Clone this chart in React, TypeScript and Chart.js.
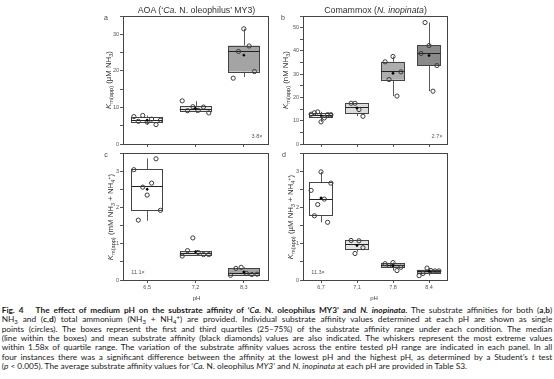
import React, { useEffect, useRef } from 'react';
import { Chart, registerables } from 'chart.js';

Chart.register(...registerables);

const FONT = '"Liberation Sans", Arial, Helvetica, sans-serif';
const CAPFONT = 'Lato, "Open Sans", sans-serif';

// ---------- Panel a : AOA, uM NH3 ----------
const aLabels = ['6,5', '7,2', '8,3'];
const aPoints = [
  [7.5, 6.2, 7.8, 6.0, 6.8, 5.3, 6.5],
  [11.8, 9.1, 10.2, 9.2, 10.1, 8.5],
  [18.0, 25.3, 31.5, 26.8, 19.8],
];
const aQ1 = [5.9, 9.0, 19.8];
const aMedian = [6.6, 9.6, 25.4];
const aQ3 = [7.4, 10.3, 26.9];
const aLow = [5.3, 8.5, 18.3];
const aHigh = [7.8, 11.7, 31.5];
const aMean = [6.5, 9.7, 24.3];

// ---------- Panel b : Comammox, nM NH3 ----------
const bLabels = ['6,7', '7,1', '7,8', '8,4'];
const bPoints = [
  [12.8, 13.4, 13.8, 9.5, 11.2, 12.6, 12.6],
  [17.5, 17.5, 14.8, 11.9],
  [35.3, 27.7, 37.6, 20.6, 31.0],
  [38.9, 52.2, 42.3, 22.7, 33.7],
];
const bQ1 = [11.3, 13.0, 27.6, 33.6];
const bMedian = [12.6, 16.0, 31.2, 38.9];
const bQ3 = [13.2, 17.5, 35.3, 42.4];
const bLow = [9.5, 12.0, 20.6, 22.7];
const bHigh = [13.8, 17.5, 37.6, 52.2];
const bMean = [12.2, 15.5, 30.4, 38.0];

// ---------- Panel c : AOA, mM NH3 + NH4+ ----------
const cLabels = ['6,5', '7,2', '8,3'];
const cPoints = [
  [3.04, 1.65, 2.56, 2.34, 2.67, 3.34, 1.92],
  [0.66, 0.81, 1.16, 0.76, 0.70, 0.70],
  [0.13, 0.32, 0.35, 0.18, 0.15, 0.16],
];
const cQ1 = [1.93, 0.68, 0.15];
const cMedian = [2.58, 0.75, 0.2];
const cQ3 = [3.05, 0.8, 0.33];
const cLow = [1.63, 0.66, 0.13];
const cHigh = [3.35, 0.81, 0.35];
const cMean = [2.5, 0.78, 0.22];

// ---------- Panel d : Comammox, uM NH3 + NH4+ ----------
const dLabels = ['6,7', '7,1', '7,8', '8,4'];
const dPoints = [
  [2.47, 1.77, 2.08, 2.98, 2.23, 1.59, 2.67],
  [1.09, 0.73, 1.08, 0.89],
  [0.45, 0.4, 0.48, 0.26, 0.35],
  [0.12, 0.18, 0.33, 0.26, 0.25, 0.25],
];
const dQ1 = [1.77, 0.84, 0.34, 0.19];
const dMedian = [2.24, 0.99, 0.4, 0.24];
const dQ3 = [2.69, 1.1, 0.46, 0.28];
const dLow = [1.59, 0.78, 0.26, 0.12];
const dHigh = [2.98, 1.1, 0.48, 0.33];
const dMean = [2.26, 0.95, 0.39, 0.24];

const aFills = ['#ffffff', '#e4e4e4', '#a4a4a4'];
const bFills = ['#f0f0f0', '#dcdcdc', '#adadad', '#8a8a8a'];
const cFills = ['#ffffff', '#e4e4e4', '#a4a4a4'];
const dFills = ['#ffffff', '#e4e4e4', '#b4b4b4', '#a8a8a8'];

type Spec = {
  labels: string[];
  points: number[][];
  q1: number[];
  median: number[];
  q3: number[];
  low: number[];
  high: number[];
  mean: number[];
  fills: string[];
  yMax: number;
  step: number;
  labelStep: number;
  showX: boolean;
  L: number; T: number; W: number; H: number;
  yw: number; xh: number; pt: number; pr: number;
};

const specs: Spec[] = [
  { labels: aLabels, points: aPoints, q1: aQ1, median: aMedian, q3: aQ3, low: aLow, high: aHigh, mean: aMean, fills: aFills,
    yMax: 35, step: 5, labelStep: 10, showX: false, L: 90, T: 8, W: 185, H: 150, yw: 33, xh: 14, pt: 8, pr: 7 },
  { labels: bLabels, points: bPoints, q1: bQ1, median: bMedian, q3: bQ3, low: bLow, high: bHigh, mean: bMean, fills: bFills,
    yMax: 55, step: 5, labelStep: 10, showX: false, L: 270, T: 8, W: 185, H: 150, yw: 33, xh: 14, pt: 8, pr: 8 },
  { labels: cLabels, points: cPoints, q1: cQ1, median: cMedian, q3: cQ3, low: cLow, high: cHigh, mean: cMean, fills: cFills,
    yMax: 3.5, step: 0.5, labelStep: 1, showX: true, L: 90, T: 145, W: 185, H: 150, yw: 33, xh: 15, pt: 8, pr: 7 },
  { labels: dLabels, points: dPoints, q1: dQ1, median: dMedian, q3: dQ3, low: dLow, high: dHigh, mean: dMean, fills: dFills,
    yMax: 3.5, step: 0.5, labelStep: 1, showX: true, L: 270, T: 145, W: 185, H: 150, yw: 33, xh: 15, pt: 8, pr: 8 },
];

const BOX_WIDTH = 0.65;

function BoxPanel({ spec }: { spec: Spec }) {
  const ref = useRef<HTMLCanvasElement>(null);
  useEffect(() => {
    if (!ref.current) return;
    const n = spec.labels.length;
    const pts: { x: number; y: number }[] = [];
    spec.points.forEach((arr, i) => {
      const m = arr.length;
      const spread = Math.min(0.55, 0.11 * (m - 1));
      arr.forEach((v, j) => {
        const off = m > 1 ? -spread / 2 + (spread * j) / (m - 1) : 0;
        pts.push({ x: i + 1 + off, y: v });
      });
    });
    const means = spec.mean.map((v, i) => ({ x: i + 1, y: v }));

    const boxPlugin = {
      id: 'boxes',
      beforeDatasetsDraw(chart: any) {
        const { ctx } = chart;
        const xs = chart.scales.x;
        const ys = chart.scales.y;
        const half = Math.abs(xs.getPixelForValue(1 + BOX_WIDTH / 2) - xs.getPixelForValue(1));
        ctx.save();
        for (let i = 0; i < n; i++) {
          const cx = xs.getPixelForValue(i + 1);
          const yq1 = ys.getPixelForValue(spec.q1[i]);
          const yq3 = ys.getPixelForValue(spec.q3[i]);
          const ymed = ys.getPixelForValue(spec.median[i]);
          const ylo = ys.getPixelForValue(spec.low[i]);
          const yhi = ys.getPixelForValue(spec.high[i]);
          ctx.strokeStyle = '#5a5a5a';
          ctx.lineWidth = 1;
          ctx.beginPath();
          ctx.moveTo(Math.round(cx) + 0.5, yq1);
          ctx.lineTo(Math.round(cx) + 0.5, ylo);
          ctx.moveTo(Math.round(cx) + 0.5, yq3);
          ctx.lineTo(Math.round(cx) + 0.5, yhi);
          ctx.stroke();
          ctx.fillStyle = spec.fills[i];
          ctx.fillRect(cx - half, yq3, half * 2, yq1 - yq3);
          ctx.strokeStyle = '#444';
          ctx.strokeRect(Math.round(cx - half) + 0.5, Math.round(yq3) + 0.5, Math.round(half * 2), Math.max(1, Math.round(yq1 - yq3)));
          ctx.strokeStyle = '#222';
          ctx.beginPath();
          ctx.moveTo(cx - half, Math.round(ymed) + 0.5);
          ctx.lineTo(cx + half, Math.round(ymed) + 0.5);
          ctx.stroke();
        }
        ctx.restore();
      },
      afterDraw(chart: any) {
        const { ctx, chartArea } = chart;
        ctx.save();
        ctx.strokeStyle = '#444';
        ctx.lineWidth = 1;
        const l = Math.round(chartArea.left) + 0.5;
        const t = Math.round(chartArea.top) + 0.5;
        const r = Math.round(chartArea.right) + 0.5;
        const b = Math.round(chartArea.bottom) + 0.5;
        ctx.strokeRect(l, t, r - l, b - t);
        ctx.restore();
      },
    };

    const tickFont = { family: FONT, size: 5.5 };
    const chart = new Chart(ref.current, {
      type: 'scatter',
      data: {
        datasets: [
          {
            data: means,
            pointStyle: 'rectRot',
            pointRadius: 1.7,
            backgroundColor: '#000',
            borderColor: '#000',
            borderWidth: 0,
          },
          {
            data: pts,
            pointStyle: 'circle',
            pointRadius: 2.1,
            borderColor: '#3c3c3c',
            backgroundColor: 'rgba(255,255,255,0)',
            borderWidth: 1,
          },
        ],
      },
      options: {
        responsive: false,
        animation: false,
        events: [],
        layout: { padding: { top: spec.pt, right: spec.pr, left: 0, bottom: 0 } },
        plugins: { legend: { display: false }, tooltip: { enabled: false } },
        scales: {
          x: {
            type: 'linear',
            min: 0.5,
            max: n + 0.5,
            afterBuildTicks: (s: any) => {
              s.ticks = spec.labels.map((_, i) => ({ value: i + 1 }));
            },
            afterFit: (s: any) => {
              s.height = spec.xh;
            },
            ticks: {
              autoSkip: false,
              maxRotation: 0,
              padding: 1.5,
              font: tickFont,
              color: '#555',
              callback: (v: any) => (spec.showX ? spec.labels[Math.round(Number(v)) - 1] ?? '' : ''),
            },
            grid: { drawOnChartArea: false, drawTicks: true, tickLength: 3, color: '#555' },
            border: { display: false },
          },
          y: {
            type: 'linear',
            min: 0,
            max: spec.yMax,
            afterFit: (s: any) => {
              s.width = spec.yw;
            },
            ticks: {
              stepSize: spec.step,
              padding: 1,
              font: tickFont,
              color: '#555',
              callback: (v: any) => {
                const q = Number(v) / spec.labelStep;
                return Math.abs(q - Math.round(q)) < 1e-6 ? String(Number(v)) : '';
              },
            },
            grid: { drawOnChartArea: false, drawTicks: true, tickLength: 3, color: '#555' },
            border: { display: false },
          },
        },
      },
      plugins: [boxPlugin],
    } as any);
    return () => chart.destroy();
  }, [spec]);
  return (
    <canvas
      ref={ref}
      width={spec.W}
      height={spec.H}
      style={{ position: 'absolute', left: spec.L, top: spec.T, width: spec.W, height: spec.H }}
    />
  );
}

const Txt = ({ x, y, size, children, color = '#333', rotate = false, style = {} }: any) => (
  <div
    style={{
      position: 'absolute',
      left: x,
      top: y,
      transform: rotate ? 'translate(-50%,-50%) rotate(-90deg)' : 'translate(-50%,-50%)',
      whiteSpace: 'nowrap',
      fontFamily: FONT,
      fontSize: size,
      lineHeight: 1,
      color,
      ...style,
    }}
  >
    {children}
  </div>
);

const Sub = ({ children }: any) => (
  <span style={{ fontSize: '0.72em', position: 'relative', top: '0.3em' }}>{children}</span>
);
const Sup = ({ children }: any) => (
  <span style={{ fontSize: '0.72em', position: 'relative', top: '-0.4em' }}>{children}</span>
);

const Km = () => (
  <>
    <i>K</i>
    <Sub>m(app)</Sub>
  </>
);

const capLines: any[] = [
  <>
    <b>Fig. 4</b>{'\u00a0\u00a0 '}
    <b>
      The effect of medium pH on the substrate affinity of ‘<i>Ca.</i> N. oleophilus MY3’ and <i>N. inopinata</i>.
    </b>{' '}
    The substrate affinities for both (<b>a</b>,<b>b</b>)
  </>,
  <>
    NH<Sub>3</Sub> and (<b>c</b>,<b>d</b>) total ammonium (NH<Sub>3</Sub> + NH<Sub>4</Sub>
    <Sup>+</Sup>) are provided. Individual substrate affinity values determined at each pH are shown as single
  </>,
  <>
    points (circles). The boxes represent the first and third quartiles (25–75%) of the substrate affinity range under
    each condition. The median
  </>,
  <>
    (line within the boxes) and mean substrate affinity (black diamonds) values are also indicated. The whiskers
    represent the most extreme values
  </>,
  <>
    within 1.58x of quartile range. The variation of the substrate affinity values across the entire tested pH range are
    indicated in each panel. In all
  </>,
  <>
    four instances there was a significant difference between the affinity at the lowest pH and the highest pH, as
    determined by a Student’s <i>t</i> test
  </>,
  <>
    (<i>p</i> &lt; 0.005). The average substrate affinity values for ‘<i>Ca.</i> N. oleophilus <i>MY3</i>’ and{' '}
    <i>N. inopinata</i> at each pH are provided in Table S3.
  </>,
];

export default function App() {
  const capTop = 310;
  const capLH = 9.33;
  return (
    <div style={{ position: 'absolute', left: 0, top: 0, width: 554, height: 379, background: '#fff', overflow: 'hidden' }}>
      {specs.map((s, i) => (
        <BoxPanel key={i} spec={s} />
      ))}

      <Txt x={196.5} y={10} size={8.8}>
        AOA (‘<i>Ca.</i> N. oleophilus’ MY3)
      </Txt>
      <Txt x={375.5} y={10} size={8.8}>
        Comammox (<i>N. inopinata</i>)
      </Txt>

      <Txt x={106} y={17} size={7} color="#444">a</Txt>
      <Txt x={283} y={17} size={7} color="#444">b</Txt>
      <Txt x={106} y={154} size={7} color="#444">c</Txt>
      <Txt x={284} y={154} size={7} color="#444">d</Txt>

      <Txt x={109} y={80} size={7.8} rotate color="#333">
        <Km /> (µM NH<Sub>3</Sub>)
      </Txt>
      <Txt x={285.5} y={80} size={7.8} rotate color="#333">
        <Km /> (nM NH<Sub>3</Sub>)
      </Txt>
      <Txt x={111} y={216.5} size={7.8} rotate color="#333">
        <Km /> (mM NH<Sub>3</Sub> + NH<Sub>4</Sub>
        <Sup>+</Sup>)
      </Txt>
      <Txt x={290.5} y={216.5} size={7.8} rotate color="#333">
        <Km /> (µM NH<Sub>3</Sub> + NH<Sub>4</Sub>
        <Sup>+</Sup>)
      </Txt>

      <Txt x={257} y={137} size={5.5} color="#555">3.8×</Txt>
      <Txt x={437} y={137} size={5.5} color="#555">2.7×</Txt>
      <Txt x={138} y={273} size={5.5} color="#555">11.1×</Txt>
      <Txt x={318} y={273} size={5.5} color="#555">11.3×</Txt>

      <Txt x={196.5} y={298} size={6} color="#444">pH</Txt>
      <Txt x={374} y={298} size={6} color="#444">pH</Txt>

      {capLines.map((ln, i) => (
        <div
          key={i}
          style={{
            position: 'absolute',
            left: 1.7,
            width: 550.6,
            top: capTop + i * capLH - 5,
            height: 10,
            lineHeight: '10px',
            fontFamily: CAPFONT,
            fontSize: 8.3,
            color: '#1a1a1a',
            textAlign: 'justify',
            textAlignLast: i === capLines.length - 1 ? 'left' : 'justify',
            whiteSpace: 'nowrap',
          }}
        >
          {ln}
        </div>
      ))}
    </div>
  );
}
